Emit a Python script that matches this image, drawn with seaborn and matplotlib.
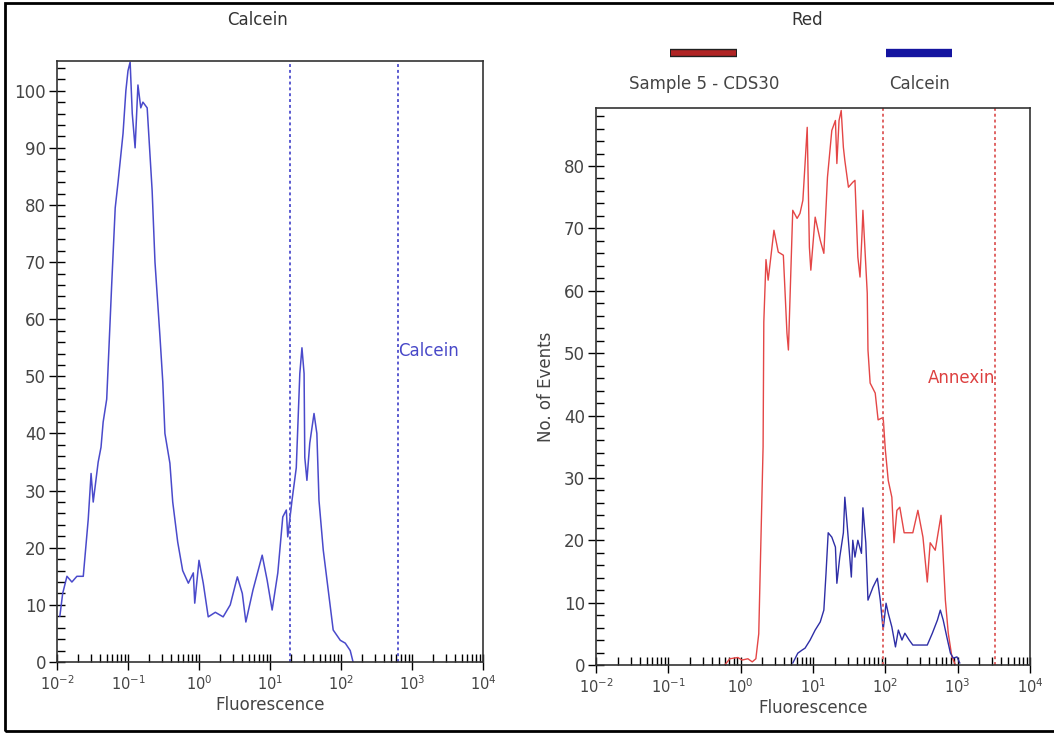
import matplotlib
matplotlib.use('Agg')
import matplotlib.pyplot as plt
from matplotlib.lines import Line2D
from matplotlib.patches import Rectangle
from matplotlib.ticker import LogLocator, MultipleLocator, NullFormatter
import numpy as np
import pandas as pd
import seaborn as sns

# left panel: Calcein histogram (log10 fluorescence, events)
calcein_log_fl = [-1.96, -1.92, -1.86, -1.79, -1.72, -1.63, -1.56, -1.52, -1.49, -1.45,
                  -1.42, -1.38, -1.35, -1.30, -1.27, -1.23, -1.18, -1.14, -1.07, -1.03,
                  -1.00, -0.97, -0.94, -0.90, -0.86, -0.82, -0.79, -0.73, -0.66, -0.62,
                  -0.55, -0.51, -0.48, -0.41, -0.37, -0.30, -0.23, -0.15, -0.08, -0.06,
                  0.00, 0.06, 0.13, 0.23, 0.34, 0.44, 0.54, 0.61, 0.66, 0.76,
                  0.89, 0.96, 1.03, 1.11, 1.18, 1.23, 1.25, 1.31, 1.37, 1.42,
                  1.45, 1.48, 1.49, 1.52, 1.56, 1.62, 1.66, 1.69, 1.75, 1.82,
                  1.89, 1.99, 2.06, 2.13, 2.17]
calcein_counts = [8, 12, 15, 14, 15, 15, 25, 33, 28, 32,
                  35, 37.6, 42, 46, 54.5, 66, 79.5, 84, 92.5, 100,
                  103.5, 105, 96, 90, 101, 97, 98, 97, 82.5, 70,
                  57, 49, 40, 34.8, 28, 21, 16, 13.8, 15.6, 10.3,
                  17.8, 13.8, 7.9, 8.7, 7.9, 10, 14.9, 12, 7, 12.6,
                  18.7, 14.3, 9.1, 15.6, 25.4, 26.6, 21.9, 28.3, 34, 50.5,
                  55, 50.5, 35.8, 31.8, 38.3, 43.5, 40, 28.3, 19.6, 12.6,
                  5.6, 3.8, 3.3, 2, 0]
calcein_gates = [19, 631]

# right panel: Sample 5 - CDS30 (red) and Calcein (blue)
sample_log_fl = [-0.22, -0.15, -0.04, 0.02, 0.10, 0.16, 0.21, 0.25, 0.28, 0.31,
                 0.32, 0.35, 0.38, 0.46, 0.52, 0.59, 0.64, 0.66, 0.71, 0.72,
                 0.78, 0.82, 0.86, 0.92, 0.95, 0.97, 1.03, 1.10, 1.15, 1.20,
                 1.26, 1.31, 1.33, 1.36, 1.39, 1.42, 1.44, 1.49, 1.55, 1.58,
                 1.62, 1.65, 1.68, 1.69, 1.75, 1.76, 1.79, 1.86, 1.90, 1.97,
                 2.00, 2.04, 2.09, 2.12, 2.16, 2.20, 2.26, 2.38, 2.45, 2.52,
                 2.58, 2.62, 2.69, 2.73, 2.77, 2.80, 2.83, 2.87, 2.92, 2.97]
sample_counts = [0, 1.0, 1.2, 0.8, 1.0, 0.5, 1.0, 5, 20, 35,
                 55, 65, 61.7, 69.7, 66.2, 65.7, 53.2, 50.5, 69.2, 72.9,
                 71.6, 72.4, 74.5, 86.2, 67, 63.3, 71.8, 68.1, 66, 78.2,
                 85.7, 87.3, 80.4, 87.3, 88.9, 83, 80.9, 76.6, 77.4, 77.7,
                 65.4, 62.2, 69.7, 72.9, 59.6, 50.5, 45.2, 43.6, 39.3, 39.7,
                 34.5, 29.6, 26.9, 19.6, 24.8, 25.3, 21.2, 21.2, 24.8, 20.5,
                 13.3, 19.6, 18.4, 21.2, 24, 17.3, 10.4, 5.1, 1.3, 0]
ctrl_log_fl = [0.72, 0.79, 0.85, 0.89, 0.96, 1.03, 1.10, 1.15, 1.18, 1.21,
               1.26, 1.31, 1.33, 1.37, 1.42, 1.44, 1.47, 1.53, 1.55, 1.58,
               1.62, 1.67, 1.69, 1.73, 1.76, 1.83, 1.89, 1.93, 1.97, 2.01,
               2.04, 2.09, 2.14, 2.18, 2.23, 2.27, 2.33, 2.38, 2.58, 2.65,
               2.72, 2.76, 2.80, 2.85, 2.90, 2.94, 2.99, 3.03]
ctrl_counts = [0.3, 1.9, 2.4, 2.7, 4, 5.6, 6.9, 8.8, 14.7, 21.2,
               20.5, 18.9, 13.1, 17.3, 21.2, 26.9, 22.8, 14.1, 20, 17.3,
               20, 17.9, 25.2, 19.6, 10.4, 12.5, 13.9, 10.4, 5.6, 9.9,
               8.3, 6.1, 2.9, 5.6, 4, 5.1, 4, 3.2, 3.2, 5.1,
               7.2, 8.8, 7.2, 4.5, 1.9, 1.1, 1.3, 0.3]
annexin_gates = [93, 3300]

decades = [1e-2, 1e-1, 1e0, 1e1, 1e2, 1e3, 1e4]

sns.set_style('ticks')
plt.rcParams['font.family'] = ['DejaVu Sans']
plt.rcParams['mathtext.fontset'] = 'dejavusans'

W, H = 1054, 733
fig = plt.figure(figsize=(W / 100, H / 100), dpi=100)
ax1 = fig.add_axes([57 / W, 1 - 662 / H, (483 - 57) / W, (662 - 61) / H])
ax2 = fig.add_axes([596 / W, 1 - 665 / H, (1030 - 596) / W, (665 - 108) / H])

left_df = pd.DataFrame({'fl': np.power(10.0, calcein_log_fl), 'n': calcein_counts})
red_df = pd.DataFrame({'fl': np.power(10.0, sample_log_fl), 'n': sample_counts})
blue_df = pd.DataFrame({'fl': np.power(10.0, ctrl_log_fl), 'n': ctrl_counts})

sns.lineplot(data=left_df, x='fl', y='n', ax=ax1, color='#4a4acb', lw=1.1, estimator=None)
sns.lineplot(data=red_df, x='fl', y='n', ax=ax2, color='#e44646', lw=1.0, estimator=None)
sns.lineplot(data=blue_df, x='fl', y='n', ax=ax2, color='#2e2ea6', lw=1.0, estimator=None)

for g in calcein_gates:
    ax1.axvline(g, color='#5a5ad0', ls=(0, (1.5, 1.5)), lw=1.4)
for g in annexin_gates:
    ax2.axvline(g, color='#e06464', ls=(0, (1.5, 1.5)), lw=1.4)

ax1.text(calcein_gates[1], 54.5, 'Calcein', color='#4848c8', fontsize=12,
         ha='left', va='center')
ax2.text(annexin_gates[1], 46, 'Annexin', color='#dd4040', fontsize=12,
         ha='right', va='center')

for ax, ytop in [(ax1, 105.2), (ax2, 89.3)]:
    ax.set_xscale('log')
    ax.set_xlim(decades[0], decades[-1])
    ax.set_ylim(0, ytop)
    ax.set_xticks(decades)
    ax.xaxis.set_minor_locator(LogLocator(base=10, subs=np.arange(2, 10), numticks=100))
    ax.xaxis.set_minor_formatter(NullFormatter())
    ax.yaxis.set_major_locator(MultipleLocator(10))
    ax.yaxis.set_minor_locator(MultipleLocator(2))
    ax.tick_params(which='major', direction='inout', length=12, width=1,
                   labelsize=12, labelcolor='#444444', color='black')
    ax.tick_params(axis='x', which='major', labelsize=10.5, pad=3)
    ax.tick_params(which='minor', direction='in', length=6, width=1, color='black')
    ax.tick_params(axis='y', which='major', pad=2)
    ax.set_xlabel('Fluorescence', fontsize=12, color='#444444', labelpad=2)
    ax.set_ylabel('')
    for s in ax.spines.values():
        s.set_color('#333333')
        s.set_linewidth(1.2)

ax2.set_ylabel('No. of Events', fontsize=12, color='#444444', labelpad=6)

# panel titles and legend
fig.text(258 / W, 1 - 20 / H, 'Calcein', ha='center', va='center', fontsize=12, color='#333333')
fig.text(807 / W, 1 - 20 / H, 'Red', ha='center', va='center', fontsize=12, color='#333333')
fig.add_artist(Line2D([670 / W, 737 / W], [1 - 53 / H, 1 - 53 / H], color='#202020',
                      lw=6, solid_capstyle='butt', transform=fig.transFigure))
fig.add_artist(Line2D([671 / W, 736 / W], [1 - 53 / H, 1 - 53 / H], color='#b02424',
                      lw=4, solid_capstyle='butt', transform=fig.transFigure))
fig.add_artist(Line2D([886 / W, 952 / W], [1 - 53 / H, 1 - 53 / H], color='#1414a0',
                      lw=6, solid_capstyle='butt', transform=fig.transFigure))
fig.text(704 / W, 1 - 84 / H, 'Sample 5 - CDS30', ha='center', va='center', fontsize=12, color='#444444')
fig.text(919 / W, 1 - 84 / H, 'Calcein', ha='center', va='center', fontsize=12, color='#444444')

fig.patches.append(Rectangle((5 / W, 2 / H), 1.0, 1 - 5 / H, transform=fig.transFigure,
                             fill=False, lw=2, ec='black'))

fig.savefig('out.png', dpi=100)
